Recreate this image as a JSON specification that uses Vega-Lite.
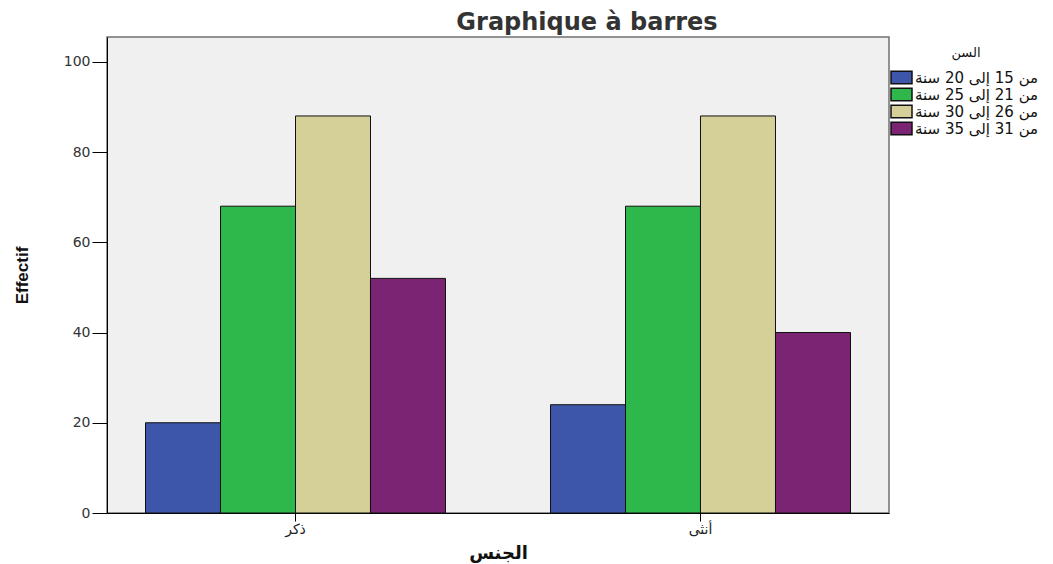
{
  "$schema": "https://vega.github.io/schema/vega-lite/v6.json",
  "autosize": {"type": "none"},
  "padding": {"left": 107, "top": 37, "right": 164, "bottom": 51},
  "width": 782,
  "height": 476,
  "background": "white",
  "title": {
    "text": "Graphique à barres",
    "anchor": "middle",
    "dx": 89,
    "offset": 2,
    "font": "DejaVu Sans",
    "fontSize": 24,
    "fontWeight": "bold",
    "color": "#333333"
  },
  "data": {
    "values": [
      {"sex": "ذكر", "age": "من 15 إلى 20 سنة", "count": 20},
      {"sex": "ذكر", "age": "من 21 إلى 25 سنة", "count": 68},
      {"sex": "ذكر", "age": "من 26 إلى 30 سنة", "count": 88},
      {"sex": "ذكر", "age": "من 31 إلى 35 سنة", "count": 52},
      {"sex": "أنثى", "age": "من 15 إلى 20 سنة", "count": 24},
      {"sex": "أنثى", "age": "من 21 إلى 25 سنة", "count": 68},
      {"sex": "أنثى", "age": "من 26 إلى 30 سنة", "count": 88},
      {"sex": "أنثى", "age": "من 31 إلى 35 سنة", "count": 40}
    ]
  },
  "mark": {"type": "bar", "stroke": "#111111", "strokeWidth": 1},
  "encoding": {
    "x": {
      "field": "sex",
      "type": "nominal",
      "sort": ["ذكر", "أنثى"],
      "scale": {"paddingInner": 0.2593, "paddingOuter": 0.0951},
      "axis": {
        "title": "الجنس",
        "labelAngle": 0,
        "labelFont": "DejaVu Sans",
        "labelFontSize": 14,
        "labelColor": "#222222",
        "labelPadding": 1,
        "tickSize": 8,
        "tickColor": "#000000",
        "domainColor": "#000000",
        "titleFont": "DejaVu Sans",
        "titleFontSize": 18,
        "titleFontWeight": "bold",
        "titleColor": "#111111",
        "titlePadding": 8
      }
    },
    "xOffset": {
      "field": "age",
      "type": "nominal",
      "scale": {"paddingInner": 0, "paddingOuter": 0}
    },
    "y": {
      "field": "count",
      "type": "quantitative",
      "scale": {"domain": [0, 105.5], "nice": false},
      "axis": {
        "title": "Effectif",
        "values": [0, 20, 40, 60, 80, 100],
        "grid": false,
        "tickSize": 15,
        "tickColor": "#000000",
        "domainColor": "#000000",
        "labelFont": "DejaVu Sans",
        "labelFontSize": 14,
        "labelColor": "#333333",
        "labelPadding": 2,
        "titleFont": "Liberation Sans",
        "titleFontSize": 17,
        "titleFontWeight": "bold",
        "titleColor": "#111111",
        "titleAngle": -90,
        "titleX": -85,
        "titleY": 238,
        "titleBaseline": "middle",
        "titleAlign": "center"
      }
    },
    "color": {
      "field": "age",
      "type": "nominal",
      "scale": {
        "range": ["#3d56a9", "#2eb84b", "#d4d097", "#7b2474"]
      },
      "legend": {
        "title": "السن",
        "orient": "none",
        "legendX": 787,
        "legendY": 10,
        "titleFont": "DejaVu Sans",
        "titleFontSize": 13,
        "titleFontWeight": "normal",
        "titleColor": "#111111",
        "titleAlign": "center",
        "titleAnchor": "middle",
        "titlePadding": 10,
        "labelFont": "DejaVu Sans",
        "labelFontSize": 15,
        "labelColor": "#111111",
        "labelOffset": 6,
        "symbolType": "M-2.1,-1.26H2.1V1.26H-2.1Z",
        "symbolSize": 100,
        "symbolStrokeColor": "#111111",
        "symbolStrokeWidth": 1.5,
        "symbolOpacity": 1,
        "rowPadding": -4.5
      }
    }
  },
  "config": {
    "view": {"fill": "#f0f0f0", "stroke": "#707070", "strokeWidth": 1.5}
  }
}
